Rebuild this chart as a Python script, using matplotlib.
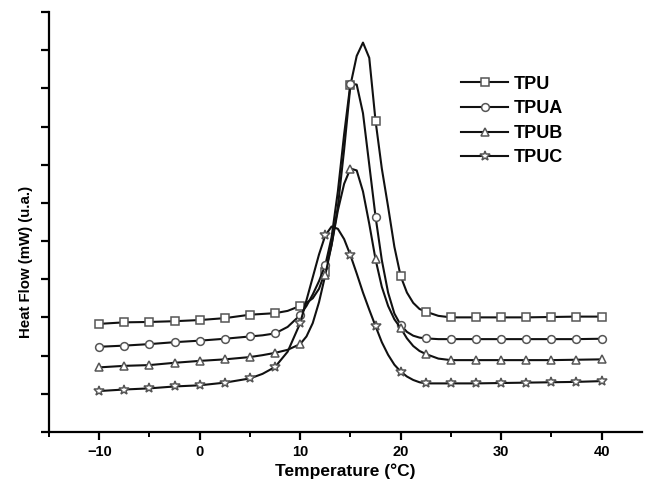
import numpy as np
import matplotlib.pyplot as plt
from matplotlib.ticker import MultipleLocator

# temperature grid (°C), denser around the melting peaks
temp = [-10, -7.5, -5, -2.5, 0, 2.5, 5, 6.25, 7.5, 8.75,
        10, 10.625, 11.25, 11.875, 12.5, 13.125, 13.75, 14.375, 15, 15.625,
        16.25, 16.875, 17.5, 18.125, 18.75, 19.375, 20, 20.625, 21.25, 21.875,
        22.5, 23.75, 25, 27.5, 30, 32.5, 35, 37.5, 40]

tpu = [2.83, 2.87, 2.88, 2.90, 2.93, 2.98, 3.07, 3.09, 3.11, 3.17,
       3.30, 3.38, 3.50, 3.75, 4.20, 4.90, 5.90, 7.40, 9.08, 9.85,
       10.20, 9.80, 8.15, 6.90, 5.90, 4.85, 4.08, 3.65, 3.38, 3.22,
       3.15, 3.04, 3.00, 3.00, 3.00, 3.00, 3.01, 3.02, 3.02]

tpua = [2.23, 2.26, 2.30, 2.35, 2.39, 2.44, 2.50, 2.53, 2.58, 2.75,
        3.06, 3.30, 3.60, 3.95, 4.37, 5.10, 6.30, 7.80, 9.12, 9.10,
        8.35, 7.00, 5.64, 4.50, 3.65, 3.10, 2.80, 2.62, 2.52, 2.47,
        2.45, 2.43, 2.43, 2.43, 2.43, 2.43, 2.43, 2.43, 2.44]

tpub = [1.69, 1.73, 1.75, 1.81, 1.86, 1.90, 1.96, 2.01, 2.07, 2.15,
        2.30, 2.50, 2.85, 3.40, 4.11, 4.90, 5.80, 6.50, 6.90, 6.85,
        6.30, 5.45, 4.52, 3.80, 3.30, 2.95, 2.72, 2.45, 2.25, 2.12,
        2.04, 1.92, 1.88, 1.88, 1.88, 1.88, 1.88, 1.89, 1.90]

tpuc = [1.07, 1.11, 1.14, 1.19, 1.22, 1.29, 1.40, 1.52, 1.70, 2.10,
        2.85, 3.45, 4.05, 4.65, 5.15, 5.38, 5.32, 5.05, 4.63, 4.15,
        3.65, 3.20, 2.77, 2.35, 2.02, 1.76, 1.58, 1.45, 1.36, 1.30,
        1.27, 1.27, 1.27, 1.27, 1.28, 1.29, 1.30, 1.31, 1.33]

names = ['TPU', 'TPUA', 'TPUB', 'TPUC']
markers = ['s', 'o', '^', '*']

plt.rcParams['font.family'] = ['Liberation Sans', 'DejaVu Sans']
plt.rcParams['font.weight'] = 'bold'

fig = plt.figure(figsize=(6.45, 4.82), dpi=100)
ax = fig.add_axes([0.076, 0.104, 0.919, 0.871])

# markers only on the regular 2.5 °C points
mark_idx = [i for i, t in enumerate(temp) if abs(t / 2.5 - round(t / 2.5)) < 1e-6]

for vals, name, m in zip([tpu, tpua, tpub, tpuc], names, markers):
    ms = 7.5 if m == '*' else 5.6
    ax.plot(temp, vals, color='#111111', linewidth=1.5, marker=m, markersize=ms,
            markerfacecolor='white', markeredgecolor='#555555', markeredgewidth=1.1,
            markevery=mark_idx, label=name)

ax.set_xlim(-15, 44)
ax.set_ylim(0, 11)
ax.xaxis.set_major_locator(MultipleLocator(10))
ax.xaxis.set_minor_locator(MultipleLocator(5))
ax.yaxis.set_major_locator(MultipleLocator(1))
ax.set_yticklabels([])
ax.spines['top'].set_visible(False)
ax.spines['right'].set_visible(False)
ax.spines['left'].set_linewidth(1.6)
ax.spines['bottom'].set_linewidth(1.6)
ax.tick_params(axis='both', which='major', direction='out', length=6, width=1.6,
               labelsize=10.5)
ax.tick_params(axis='x', which='minor', direction='out', length=3.5, width=1.4)

ax.set_xlabel('Temperature (°C)', fontsize=12.5, fontweight='bold', labelpad=3)
ax.set_ylabel('Heat Flow (mW) (u.a.)', fontsize=10.8, fontweight='bold')
ax.yaxis.set_label_coords(-0.027, 0.405)

ax.legend(loc='upper left', bbox_to_anchor=(0.68, 0.87), frameon=False,
          handlelength=2.6, labelspacing=0.42, handletextpad=0.3,
          borderpad=0, prop={'weight': 'bold', 'size': 13})

plt.savefig('out.png', dpi=100)
